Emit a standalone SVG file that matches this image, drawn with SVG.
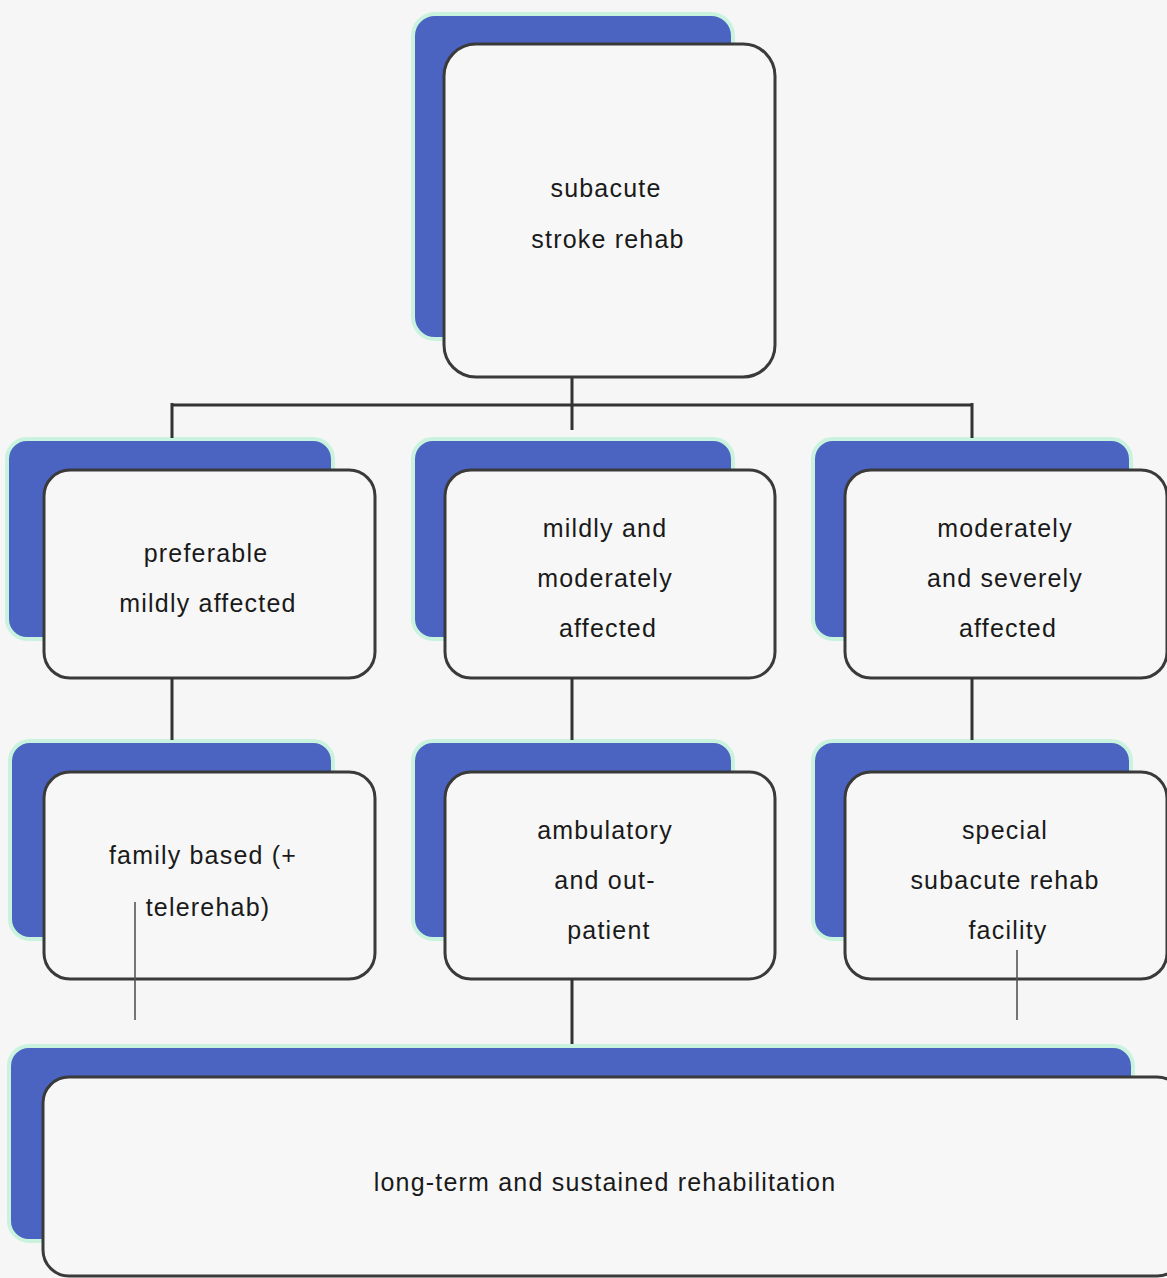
<svg xmlns="http://www.w3.org/2000/svg" width="1167" height="1278" viewBox="0 0 1167 1278">
<style>
.back{fill:#4b63c1;stroke:#c9f3de;stroke-width:4}
.front{fill:#f7f7f7;stroke:#3a3a3a;stroke-width:3}
.lbl{font-family:"Liberation Sans",Arial,sans-serif;font-size:25px;letter-spacing:1.2px;fill:#1a1a1a;text-anchor:middle}
.con{fill:none;stroke:#333;stroke-width:3}
.thin{fill:none;stroke:#555;stroke-width:1.6}
</style>
<rect width="1167" height="1278" fill="#f6f6f6"/>
<g id="n-top">
<rect class="back" x="413" y="14" width="320" height="325" rx="22"/>
<rect class="front" x="444" y="44" width="331" height="333" rx="32"/>
<text class="lbl" x="606" y="197">subacute</text>
<text class="lbl" x="608" y="248">stroke rehab</text>
</g>
<g id="n-mild">
<rect class="back" x="7" y="439" width="326" height="200" rx="20"/>
<rect class="front" x="44" y="470" width="331" height="208" rx="26"/>
<text class="lbl" x="206" y="562">preferable</text>
<text class="lbl" x="208" y="612">mildly affected</text>
</g>
<g id="n-mildmod">
<rect class="back" x="413" y="439" width="320" height="200" rx="20"/>
<rect class="front" x="445" y="470" width="330" height="208" rx="26"/>
<text class="lbl" x="605" y="537">mildly and</text>
<text class="lbl" x="605" y="587">moderately</text>
<text class="lbl" x="608" y="637">affected</text>
</g>
<g id="n-modsev">
<rect class="back" x="813" y="439" width="318" height="200" rx="20"/>
<rect class="front" x="845" y="470" width="322" height="208" rx="26"/>
<text class="lbl" x="1005" y="537">moderately</text>
<text class="lbl" x="1005" y="587">and severely</text>
<text class="lbl" x="1008" y="637">affected</text>
</g>
<g id="n-family">
<rect class="back" x="10" y="741" width="323" height="198" rx="20"/>
<rect class="front" x="44" y="772" width="331" height="207" rx="26"/>
<text class="lbl" x="203" y="864">family based (+</text>
<text class="lbl" x="208" y="916">telerehab)</text>
</g>
<g id="n-ambulatory">
<rect class="back" x="413" y="741" width="320" height="198" rx="20"/>
<rect class="front" x="445" y="772" width="330" height="207" rx="26"/>
<text class="lbl" x="605" y="839">ambulatory</text>
<text class="lbl" x="605" y="889">and out-</text>
<text class="lbl" x="609" y="939">patient</text>
</g>
<g id="n-special">
<rect class="back" x="813" y="741" width="318" height="198" rx="20"/>
<rect class="front" x="845" y="772" width="322" height="207" rx="26"/>
<text class="lbl" x="1005" y="839">special</text>
<text class="lbl" x="1005" y="889">subacute rehab</text>
<text class="lbl" x="1008" y="939">facility</text>
</g>
<g id="n-longterm">
<rect class="back" x="9" y="1046" width="1124" height="195" rx="20"/>
<rect class="front" x="43" y="1077" width="1140" height="199" rx="26"/>
<text class="lbl" x="605" y="1191">long-term and sustained rehabilitation</text>
</g>
<g id="connectors">
<path class="con" d="M572 378V430M172 405H972M172 403V438M972 403V438"/>
<path class="con" d="M172 678V740M572 678V740M972 678V740"/>
<path class="con" d="M572 979V1044"/>
<path class="thin" d="M135 902V1020M1017 950V1020"/>
</g>
</svg>
